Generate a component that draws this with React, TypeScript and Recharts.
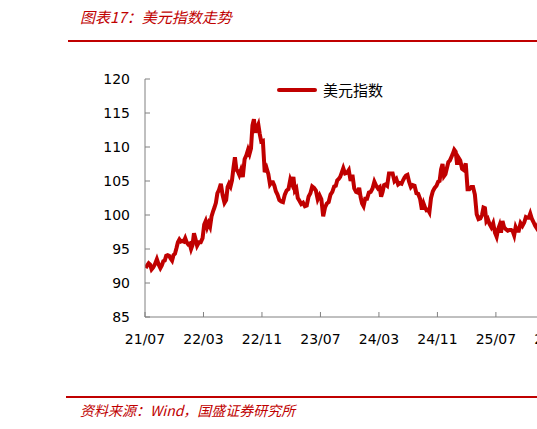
import { LineChart, Line, XAxis, YAxis } from "recharts";

// 月份（从 2021/07 开始，逐月连续）
const months = [
  "2021-07", "2021-08", "2021-09", "2021-10", "2021-11", "2021-12",
  "2022-01", "2022-02", "2022-03", "2022-04", "2022-05", "2022-06",
  "2022-07", "2022-08", "2022-09", "2022-10", "2022-11", "2022-12",
  "2023-01", "2023-02", "2023-03", "2023-04", "2023-05", "2023-06",
  "2023-07", "2023-08", "2023-09", "2023-10", "2023-11", "2023-12",
  "2024-01", "2024-02", "2024-03", "2024-04", "2024-05", "2024-06",
  "2024-07", "2024-08", "2024-09", "2024-10", "2024-11", "2024-12",
  "2025-01", "2025-02", "2025-03", "2025-04", "2025-05", "2025-06",
  "2025-07", "2025-08", "2025-09", "2025-10", "2025-11", "2025-12",
  "2026-01",
];

// 美元指数，每月的周度读数
const dxyWeekly = [
  [92.2, 92.6, 92.9, 92.7, 92.0],
  [92.3, 92.8, 93.5, 92.7],
  [92.2, 92.6, 93.2, 93.3, 94.0],
  [94.1, 94.0, 93.6, 93.3, 94.1],
  [94.3, 95.1, 96.0, 96.4, 96.1],
  [96.2, 96.1, 96.6, 96.0, 95.7],
  [95.8, 95.0, 95.6, 97.3, 96.5],
  [95.5, 96.0, 96.0, 96.6],
  [98.6, 99.1, 98.2, 98.8, 98.3],
  [99.8, 100.5, 101.1, 101.8, 103.2],
  [103.7, 104.6, 102.9, 101.8],
  [102.2, 104.1, 104.6, 104.2, 105.1],
  [106.9, 108.5, 106.7, 106.4, 105.9],
  [106.6, 105.6, 108.2, 108.8],
  [109.6, 109.0, 109.8, 113.2, 114.1],
  [112.1, 112.8, 113.3, 111.9, 110.8],
  [110.9, 106.3, 106.9, 106.0],
  [104.5, 104.8, 104.8, 104.3, 103.5],
  [103.0, 102.2, 102.0, 101.9],
  [103.0, 103.6, 103.8, 105.2],
  [104.6, 105.6, 103.6, 103.9, 102.5],
  [102.1, 101.6, 101.8, 101.3],
  [101.4, 102.7, 103.2, 104.2],
  [104.0, 103.6, 102.3, 102.9],
  [102.3, 99.8, 101.1, 101.7],
  [101.9, 103.0, 103.4, 104.2],
  [104.3, 105.1, 105.3, 105.6, 106.2],
  [106.9, 106.1, 106.2, 106.6],
  [105.0, 105.9, 103.9, 103.4],
  [103.3, 104.0, 102.6, 101.7, 101.3],
  [102.4, 102.4, 103.3, 103.4],
  [103.9, 104.9, 104.3, 103.9],
  [104.1, 102.7, 103.4, 104.4, 104.5],
  [104.3, 106.1, 106.1, 106.1],
  [105.0, 105.3, 104.5, 104.7],
  [104.6, 105.1, 105.5, 105.8, 105.9],
  [104.9, 104.1, 104.4, 104.3],
  [103.2, 103.1, 102.4, 100.8],
  [101.7, 101.1, 100.7, 100.8, 100.4],
  [102.5, 103.5, 104.0, 104.3],
  [104.9, 105.0, 106.7, 107.5, 105.7],
  [106.0, 106.9, 107.8, 108.0, 108.5],
  [109.0, 109.6, 109.3, 107.4, 108.4],
  [108.0, 106.8, 106.6, 107.6],
  [103.8, 103.8, 104.1, 104.1],
  [103.0, 100.1, 99.4, 99.5],
  [100.0, 101.1, 101.0, 99.1, 99.4],
  [98.7, 98.2, 98.8, 97.4],
  [96.8, 97.9, 98.5, 97.4, 99.1],
  [98.2, 97.9, 97.7, 97.8],
  [97.8, 97.6, 97.0, 98.2, 97.7],
  [97.7, 98.8, 98.4, 98.9],
  [99.7, 99.6, 99.6, 100.2, 99.5],
  [99.0, 98.4, 98.0, 98.9],
  [98.4, 99.1, 99.3],
];

const yTicks = [85, 90, 95, 100, 105, 110, 115, 120];
const xTicks = [0, 8, 16, 24, 32, 40, 48, 56];

const data = months.flatMap((_, k) =>
  dxyWeekly[k].map((v, i) => ({ t: k + (i + 0.5) / dxyWeekly[k].length, value: v }))
);

const RED = "#c00000";
const AXIS = "#808080";
const FONT = "'DejaVu Sans', Verdana, sans-serif";
const CJK = "'Noto Sans CJK SC', sans-serif";

function monthLabel(m: number) {
  const idx = 6 + m;
  const yy = 21 + Math.floor(idx / 12);
  const mm = (idx % 12) + 1;
  return `${yy}/${mm < 10 ? "0" + mm : mm}`;
}

export default function App() {
  return (
    <div style={{ position: "absolute", left: 0, top: 0, width: 537, height: 429, overflow: "hidden", background: "#fff" }}>
      <div style={{ position: "absolute", left: 80, top: 6, fontFamily: CJK, fontStyle: "italic", fontSize: 15, color: RED, whiteSpace: "nowrap" }}>
        图表17：美元指数走势
      </div>
      <div style={{ position: "absolute", left: 68, top: 40, width: 480, height: 2, background: RED }} />

      <div style={{ position: "absolute", left: 0, top: 0 }}>
        <LineChart width={600} height={429} data={data} margin={{ top: 79, right: 31, left: 0, bottom: 0 }}>
          <XAxis
            dataKey="t"
            type="number"
            domain={[0, 58]}
            ticks={xTicks}
            tickFormatter={monthLabel}
            allowDataOverflow
            axisLine={{ stroke: AXIS }}
            tickLine={{ stroke: AXIS }}
            tickSize={-5}
            tickMargin={22}
            height={112}
            interval={0}
            tick={{ fill: "#000", fontSize: 14, fontFamily: FONT }}
          />
          <YAxis
            domain={[85, 120]}
            ticks={yTicks}
            width={145}
            interval={0}
            axisLine={{ stroke: AXIS }}
            tickLine={{ stroke: AXIS }}
            tickSize={-5}
            tickMargin={20}
            tick={{ fill: "#000", fontSize: 14, fontFamily: FONT }}
          />
          <Line
            type="linear"
            dataKey="value"
            name="美元指数"
            stroke={RED}
            strokeWidth={4}
            dot={false}
            isAnimationActive={false}
          />
        </LineChart>
      </div>

      <div style={{ position: "absolute", left: 277, top: 79, display: "flex", alignItems: "center", fontFamily: CJK, fontSize: 15, color: "#000", whiteSpace: "nowrap" }}>
        <span style={{ display: "inline-block", width: 40, height: 4, background: RED, borderRadius: 2, marginRight: 6 }} />
        <span>美元指数</span>
      </div>

      <div style={{ position: "absolute", left: 66, top: 396, width: 480, height: 2, background: RED }} />
      <div style={{ position: "absolute", left: 80, top: 400, fontFamily: CJK, fontStyle: "italic", fontSize: 14, color: RED, whiteSpace: "nowrap" }}>
        资料来源：Wind，国盛证券研究所
      </div>
    </div>
  );
}
